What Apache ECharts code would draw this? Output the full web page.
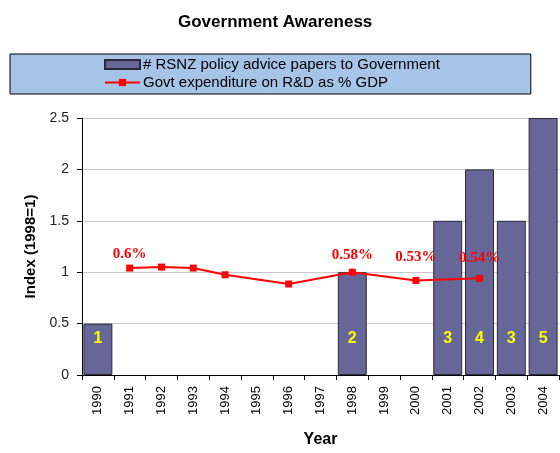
<!DOCTYPE html>
<html>
<head>
<meta charset="utf-8">
<script src="https://cdn.jsdelivr.net/npm/echarts@6/dist/echarts.min.js"></script>
<style>
  html, body { margin: 0; padding: 0; background: #fff; }
  #chart { width: 560px; height: 453px; }
</style>
</head>
<body>
<div id="chart"></div>
<script>
const years = ['1990', '1991', '1992', '1993', '1994', '1995', '1996', '1997',
               '1998', '1999', '2000', '2001', '2002', '2003', '2004'];

// index values (1998 = 1)
const paperIndex = [0.5, null, null, null, null, null, null, null,
                    1, null, null, 1.5, 2, 1.5, 2.5];
const paperCounts = ['1', '', '', '', '', '', '', '', '2', '', '', '3', '4', '3', '5'];

const spendIndex = [null, 1.04, 1.05, 1.04, 0.975, null, 0.885, null,
                    1.0, null, 0.92, null, 0.94, null, null];
const spendPct = ['', '0.6%', '', '', '', '', '', '', '0.58%', '', '0.53%', '', '0.54%', '', ''];

// how far each percentage label sits above its marker
const labelLift = { 1: 3, 8: 6, 10: 12, 12: 9 };

const chart = echarts.init(document.getElementById('chart'));

const spendData = spendIndex.map((v, i) => {
    if (!spendPct[i]) return v;
    return {
        value: v,
        label: { show: true, formatter: spendPct[i], distance: labelLift[i] }
    };
});

const option = {
    animation: false,
    textStyle: { fontFamily: 'Liberation Sans, Arial, sans-serif' },
    title: {
        text: 'Government Awareness',
        left: 173,
        top: 9,
        textStyle: { fontSize: 17, fontWeight: 'bold', color: '#000' }
    },
    legend: {
        orient: 'vertical',
        left: 10,
        top: 54,
        backgroundColor: '#a6c3e8',
        borderColor: '#000',
        borderWidth: 1,
        borderRadius: 0,
        padding: [3, 91, 4, 94],
        itemGap: 3,
        itemWidth: 35,
        itemHeight: 9,
        textStyle: { fontSize: 15, color: '#000', padding: [0, 0, 0, -2] },
        data: [
            { name: '# RSNZ policy advice papers to Government', icon: 'rect' },
            { name: 'Govt expenditure on R&D as % GDP' }
        ]
    },
    grid: { left: 82, right: 1, top: 118, bottom: 67, containLabel: false },
    xAxis: {
        type: 'category',
        data: years,
        name: 'Year',
        nameLocation: 'middle',
        nameGap: 57,
        nameTextStyle: { fontSize: 16, fontWeight: 'bold', color: '#000' },
        axisLine: { lineStyle: { color: '#000', width: 1 } },
        axisTick: { show: true, length: 5, lineStyle: { color: '#000' } },
        axisLabel: { rotate: 90, fontSize: 13, color: '#000', margin: 11 },
        splitLine: { show: false }
    },
    yAxis: {
        type: 'value',
        min: 0,
        max: 2.5,
        interval: 0.5,
        name: 'Index (1998=1)',
        nameLocation: 'middle',
        nameGap: 44,
        nameTextStyle: { fontSize: 15, fontWeight: 'bold', color: '#000' },
        axisLine: { show: true, lineStyle: { color: '#000', width: 1 } },
        axisTick: { show: true, length: 5, lineStyle: { color: '#000' } },
        axisLabel: { fontSize: 14, color: '#222', margin: 13 },
        splitLine: { show: true, lineStyle: { color: '#c8c8c8', width: 1 } }
    },
    series: [
        {
            name: '# RSNZ policy advice papers to Government',
            type: 'bar',
            data: paperIndex,
            barCategoryGap: '9%',
            itemStyle: { color: '#666699', borderColor: '#2a2a3a', borderWidth: 1 },
            label: {
                show: true,
                position: 'insideBottom',
                distance: 28,
                formatter: p => paperCounts[p.dataIndex],
                color: '#ffff00',
                fontSize: 16,
                fontWeight: 'bold'
            },
            z: 2
        },
        {
            name: 'Govt expenditure on R&D as % GDP',
            type: 'line',
            data: spendData,
            connectNulls: true,
            symbol: 'rect',
            symbolSize: 7,
            lineStyle: { color: '#ff0000', width: 2 },
            itemStyle: { color: '#ff0000' },
            label: {
                show: false,
                position: 'top',
                color: '#ff0000',
                fontFamily: 'Liberation Serif, Times New Roman, serif',
                fontSize: 15,
                fontWeight: 'bold'
            },
            z: 3
        }
    ]
};

chart.setOption(option);
</script>
</body>
</html>
